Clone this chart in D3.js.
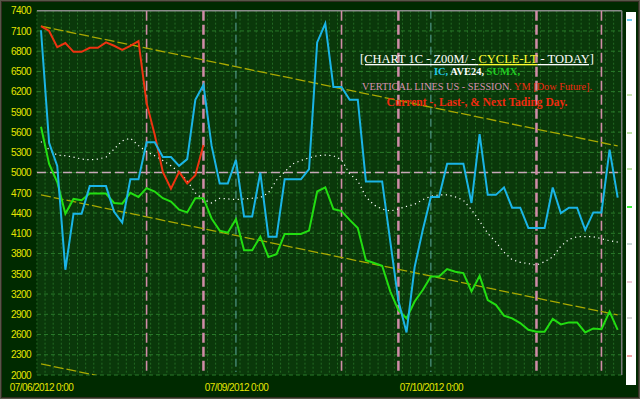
<!DOCTYPE html>
<html>
<head>
<meta charset="utf-8">
<script src="https://cdn.jsdelivr.net/npm/d3@7"></script>
<style>
html,body{margin:0;padding:0;background:#002800;}
svg{display:block;}
</style>
</head>
<body>
<svg id="chart" width="640" height="399"></svg>
<script>
// ---- data (hourly points, 3 trading days) ----
const tickIndex = [0, 24, 48];
const tickLabels = ["07/06/2012 0:00", "07/09/2012 0:00", "07/10/2012 0:00"];
const yTicks = [2000,2300,2600,2900,3200,3500,3800,4100,4400,4700,5000,5300,5600,5900,6200,6500,6800,7100,7400];

const ic = [7110,5440,5100,3560,4390,4390,4800,4800,4800,4420,4260,4900,4900,5450,5450,5230,5230,5100,5200,6080,
  6300,5400,4840,4840,5190,4350,4350,5000,4050,4050,4900,4900,4900,5050,6930,7210,6270,6270,6080,6080,
  4870,4870,4870,3980,3100,2630,3600,4150,4640,4640,5130,5130,5130,4550,5570,4670,4670,4780,4480,4480,
  4180,4180,4180,4780,4400,4480,4480,4150,4410,4410,5340,4630];
const ym = [7170,7100,6860,6920,6790,6790,6850,6850,6930,6880,6820,6880,6950,6030,5560,5010,4760,5010,4840,4960,5410];
const sumx = [5680,5130,4860,4390,4610,4590,4690,4690,4690,4550,4540,4700,4640,4770,4720,4620,4570,4450,4410,4620,
  4620,4320,4140,4110,4310,3850,3850,4050,3750,3790,4090,4090,4090,4140,4720,4780,4460,4430,4300,4180,
  3700,3660,3620,3240,2960,2840,3090,3260,3460,3460,3570,3530,3510,3240,3470,3110,3040,2880,2840,2770,
  2670,2640,2640,2830,2750,2780,2780,2630,2690,2680,2940,2670];
const ave24 = [5460,5340,5260,5250,5230,5200,5190,5200,5230,5350,5470,5510,5400,5310,5250,5180,5100,5010,4880,4700,
  4600,4550,4620,4610,4600,4610,4620,4630,4700,4890,5010,5130,5180,5220,5250,5260,5250,5190,4980,4880,
  4640,4520,4460,4430,4460,4500,4530,4600,4650,4670,4670,4640,4590,4450,4280,4100,3970,3820,3710,3670,
  3650,3630,3680,3750,3910,4010,4050,4050,4050,4020,3990,3970];
// trend channel lines: [startIndex, startValue, endIndex, endValue]
const trendLines = [[0,7170,71,5395],[0,4670,71,2890],[0,2165,71,385]];
// session lines (US session open/close) and day separators
const sessionLines = [13,20,37,44,61,69];
const sessionThick = [false,true,false,true,true,false];
const dayLines = [24,48];
const refLevel = 5000;

// ---- layout ----
const svg = d3.select("#chart");
const W = 640, H = 399;
const x = d3.scaleLinear().domain([0,71]).range([41,617.7]);
const y = d3.scaleLinear().domain([2000,7400]).range([375,10.7]);
const pL = x(-0.5), pR = x(71.5), pT = y(7400), pB = y(2000);

// outer frame
svg.append("rect").attr("x",0).attr("y",0).attr("width",W).attr("height",H).attr("fill","#002a00");
svg.append("rect").attr("x",0.5).attr("y",0.5).attr("width",W-1).attr("height",H-1)
  .attr("fill","none").attr("stroke","#b08090").attr("stroke-width",1).attr("stroke-dasharray","1,1");
svg.append("rect").attr("x",1.5).attr("y",1.5).attr("width",W-3).attr("height",H-3)
  .attr("fill","none").attr("stroke","#603040").attr("stroke-width",1).attr("stroke-dasharray","1,1");

// plot background
svg.append("rect").attr("x",pL).attr("y",pT).attr("width",pR-pL).attr("height",pB-pT).attr("fill","#0a380a");

svg.append("defs").append("clipPath").attr("id","clip")
  .append("rect").attr("x",pL).attr("y",pT).attr("width",pR-pL).attr("height",pB-pT);

const grid = svg.append("g");
grid.selectAll("line.v").data(d3.range(-0.5,72,1)).join("line")
  .attr("x1",d=>x(d)).attr("x2",d=>x(d)).attr("y1",pT).attr("y2",pB)
  .attr("stroke","#236a23").attr("stroke-width",1).attr("stroke-dasharray","2,2");
grid.selectAll("line.h").data(yTicks).join("line")
  .attr("x1",pL).attr("x2",pR).attr("y1",d=>y(d)).attr("y2",d=>y(d))
  .attr("stroke","#2a7a2a").attr("stroke-width",1).attr("stroke-dasharray","4,3");
svg.append("line").attr("x1",pL).attr("x2",pR).attr("y1",pT).attr("y2",pT).attr("stroke","#8a8a8a").attr("stroke-width",1.5);
svg.append("line").attr("x1",pR).attr("x2",pR).attr("y1",pT).attr("y2",pB).attr("stroke","#7a7a7a").attr("stroke-width",1.5);

// y axis labels
const yAxis = d3.axisLeft(y).tickValues(yTicks).tickSize(0).tickPadding(6).tickFormat(d3.format("d"));
const gy = svg.append("g").attr("transform",`translate(${pL},0)`).call(yAxis);
gy.select(".domain").remove();
gy.selectAll("text").attr("fill","#e6e600").style("font-family","Liberation Sans, Arial, sans-serif")
  .style("font-size","10px").style("letter-spacing","-0.6px");

// x axis labels
const xAxis = d3.axisBottom(x).tickValues(tickIndex).tickSize(0).tickPadding(9).tickFormat((d,i)=>tickLabels[i]);
const gx = svg.append("g").attr("transform",`translate(0,${pB})`).call(xAxis);
gx.select(".domain").remove();
gx.selectAll("text").attr("fill","#e6e600").style("font-family","Liberation Sans, Arial, sans-serif")
  .style("font-size","10px").style("letter-spacing","-0.6px");

const plot = svg.append("g").attr("clip-path","url(#clip)");

plot.append("line").attr("x1",pL).attr("x2",pR).attr("y1",y(refLevel)).attr("y2",y(refLevel))
  .attr("stroke","#c8a8b8").attr("stroke-width",1.5).attr("stroke-dasharray","9,4");

plot.selectAll("line.day").data(dayLines).join("line")
  .attr("x1",d=>x(d)).attr("x2",d=>x(d)).attr("y1",pT).attr("y2",372)
  .attr("stroke","#5fa8a0").attr("stroke-width",1).attr("stroke-dasharray","8,4");
plot.selectAll("line.sess").data(sessionLines).join("line")
  .attr("x1",d=>x(d)).attr("x2",d=>x(d)).attr("y1",pT).attr("y2",372)
  .attr("stroke","#d08ca8").attr("stroke-width",(d,i)=>sessionThick[i]?2.5:1.6).attr("stroke-dasharray","10,4");

plot.selectAll("line.trend").data(trendLines).join("line")
  .attr("x1",d=>x(d[0])).attr("y1",d=>y(d[1])).attr("x2",d=>x(d[2])).attr("y2",d=>y(d[3]))
  .attr("stroke","#a8a800").attr("stroke-width",1.3).attr("stroke-dasharray","10,3");

const line = d3.line().x((d,i)=>x(i)).y(d=>y(d));

plot.append("path").datum(ave24).attr("d",line).attr("fill","none")
  .attr("stroke","#ffffff").attr("stroke-width",1.2).attr("stroke-dasharray","1.2,3.5");
plot.append("path").datum(sumx).attr("d",line).attr("fill","none")
  .attr("stroke","#22dd11").attr("stroke-width",2);
plot.append("path").datum(ym).attr("d",line).attr("fill","none")
  .attr("stroke","#ee3311").attr("stroke-width",2);
plot.append("path").datum(ic).attr("d",line).attr("fill","none")
  .attr("stroke","#1ab4e6").attr("stroke-width",2);

// annotation text
const tx = 477;
const t1 = svg.append("text").attr("x",tx).attr("y",63).attr("text-anchor","middle")
  .style("font-family","Liberation Serif, Times New Roman, serif").style("font-size","13px")
  .attr("textLength",234).attr("lengthAdjust","spacingAndGlyphs");
t1.append("tspan").attr("fill","#ffffff").style("text-decoration","underline").text("[CHART 1C - Z00M/ - ");
t1.append("tspan").attr("fill","#ffff33").style("text-decoration","underline").text("CYCLE-LT");
t1.append("tspan").attr("fill","#ffffff").style("text-decoration","underline").text(" - TODAY]");

const t2 = svg.append("text").attr("x",tx).attr("y",75).attr("text-anchor","middle")
  .style("font-family","Liberation Serif, Times New Roman, serif").style("font-size","10px").style("font-weight","bold")
  .attr("textLength",86).attr("lengthAdjust","spacingAndGlyphs");
t2.append("tspan").attr("fill","#22c8e8").text("IC, ");
t2.append("tspan").attr("fill","#ffffff").text("AVE24, ");
t2.append("tspan").attr("fill","#22cc22").text("SUMX,");

const t3 = svg.append("text").attr("x",tx).attr("y",90).attr("text-anchor","middle")
  .style("font-family","Liberation Serif, Times New Roman, serif").style("font-size","10px")
  .attr("textLength",230).attr("lengthAdjust","spacingAndGlyphs");
t3.append("tspan").attr("fill","#d890b0").text("VERTICAL LINES US - SESSION. ");
t3.append("tspan").attr("fill","#ee2a10").text("YM [Dow Future].");

svg.append("text").attr("x",tx).attr("y",106).attr("text-anchor","middle")
  .style("font-family","Liberation Serif, Times New Roman, serif").style("font-size","12px").style("font-weight","bold")
  .attr("fill","#ee2a10").attr("textLength",181).attr("lengthAdjust","spacingAndGlyphs")
  .text("Current -, Last-, & Next Tading Day.");

// right side white panel with marker ticks
const markerY = [20,95,133,169,207,244,282,318,356];
const markerC = ["#40b8e8","#b8dc98","#a8d888","#a8d888","#00ee00","#b8ccc8","#e8b8c8","#c8c8c8","#f08888"];
svg.append("rect").attr("x",626).attr("y",12).attr("width",10).attr("height",373).attr("fill","#ffffff");
svg.selectAll("line.mk").data(markerY).join("line")
  .attr("x1",627).attr("x2",632).attr("y1",d=>d).attr("y2",d=>d)
  .attr("stroke",(d,i)=>markerC[i]).attr("stroke-width",1.5);
</script>
</body>
</html>
